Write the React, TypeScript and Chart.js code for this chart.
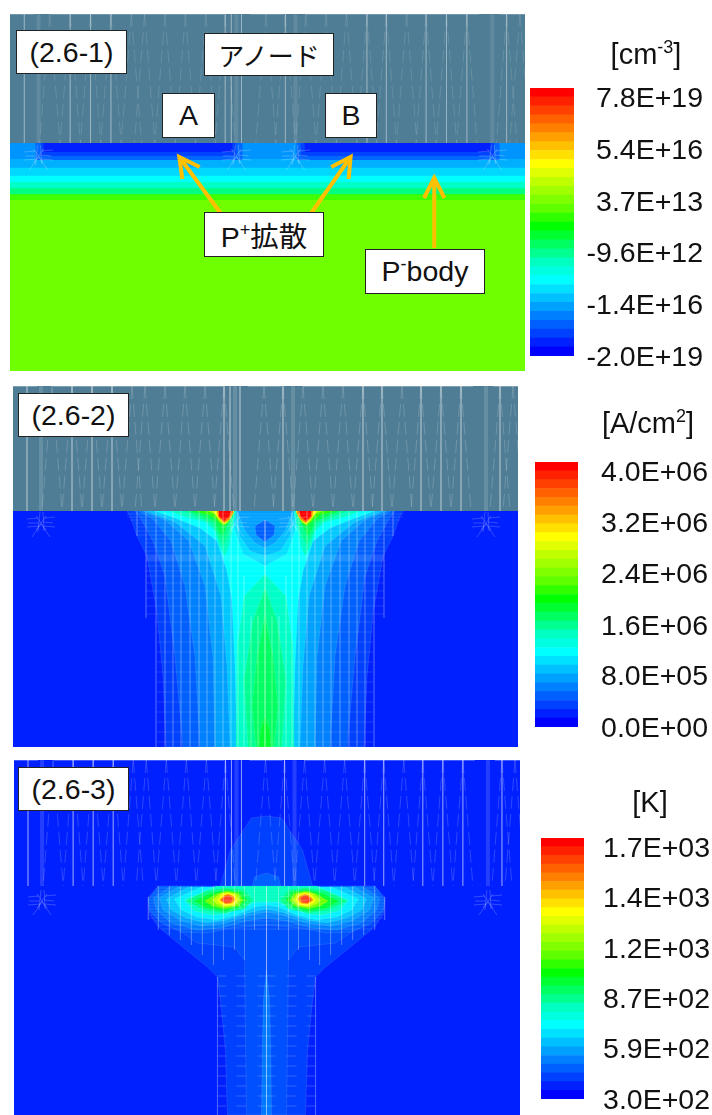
import React, { useEffect, useRef } from "react";
import { Chart, registerables } from "chart.js";

Chart.register(...registerables);

// ---------- colour scale, bottom to top ----------
const levelColors = ["#0000ff","#0020ff","#0040ff","#0060ff","#0080ff","#00a0ff","#00c0ff","#00e0ff","#00ffff","#00ffe0","#00ffc0","#00ff90","#00ff60","#00ff30","#00ff00","#30ff00","#60ff00","#80ff00","#a0ff00","#c0ff00","#e0ff00","#ffff00","#ffe000","#ffc000","#ffa000","#ff8000","#ff6000","#ff4000","#ff2000","#ff0000"];
const ticksDoping = ["7.8E+19","5.4E+16","3.7E+13","-9.6E+12","-1.4E+16","-2.0E+19"];
const ticksCurrent = ["4.0E+06","3.2E+06","2.4E+06","1.6E+06","8.0E+05","0.0E+00"];
const ticksTemp = ["1.7E+03","1.4E+03","1.2E+03","8.7E+02","5.9E+02","3.0E+02"];
const tickLevels = [28.75, 22.95, 17.15, 11.35, 5.6, -0.2];

// ---------- anode mesh streaks (device x) ----------
const anodeSolid = [14,59,79,99,211,217,227,270,350,369,408,428,448,487];
const anodeGlow = [28,222,280,473];
const anodeApex = [39,59,79,99,119,132,152,172,192,211,251,270,290,310,330,350,369,389,408,428,448,487,500];
const anodeTop = [[0,24],[40,210],[235,268],[290,460],[480,505]];

// ---------- panel 1: doping layers ----------
const dopingLayers: [number, string][] = [[186,"#40ff00"],[180.3,"#00ff80"],[174.3,"#00ffc8"],[167.7,"#00ffff"],[161.7,"#00d8ff"],[153.7,"#00b0ff"],[145,"#0094ff"]];
const dopingBlocks: [number, number, number, number, string][] = [
  [25,228,129,146,"#0068ff"],[281,480,129,146,"#0068ff"],
  [30,222,129,142,"#0044ff"],[285,475,129,142,"#0044ff"],
  [33,218,129,138,"#0020ff"],[289,471,129,138,"#0020ff"],
];
const arrowA = [[186,153],[166,143],[169,165],[null,null],[210,204],[166,143]];
const arrowB = [[315,153],[334,143],[332,165],[null,null],[292,204],[334,143]];
const arrowBody = [[406,184],[416,164],[426,184],[null,null],[416,234],[416,164]];

// ---------- panel 2: current density contours (half outlines: distance from axis, depth) ----------
const currentBells: [string, number[][]][] = [
  ["#0040ff",[[138,125],[135,130],[128,150],[118,170],[108,227],[102,290],[99,361]]],
  ["#0060ff",[[130,125],[124,133],[112,155],[100,190],[90,270],[82,361]]],
  ["#0080ff",[[126,125],[112,133],[94,155],[80,200],[70,270],[65,361]]],
  ["#00a0ff",[[122,125],[100,134],[76,155],[60,200],[52,270],[50,361]]],
  ["#00c8ff",[[118,125],[90,136],[60,160],[44,210],[38,280],[35,361]]],
  ["#00ffff",[[110,125],[90,132],[65,142],[48,155],[38,185],[33,215],[30,280],[28,361]]],
  ["#00ffc8",[[0,188],[21,210],[28,261],[29,361]]],
  ["#00ff90",[[0,202],[12,234],[21,294],[17,361]]],
  ["#00ff60",[[0,229],[8,270],[13,320],[9,361]]],
  ["#00ff30",[[0,330],[5,345],[6,361]]],
];
const currentDip: [string, number[][]][] = [
  ["#00e0ff",[[33,125],[30,145],[22,168],[0,180]]],
  ["#00c0ff",[[30,125],[25,150],[15,165],[0,170]]],
  ["#00a0ff",[[28,125],[20,145],[10,157],[0,162]]],
  ["#0060ff",[[0,134],[10,140],[9,149],[0,156]]],
];
const currentLobes: [string, number[][]][] = [
  ["#00ffc0",[[95,125],[80,131],[60,136],[50,145],[46,160],[40,170],[36,160],[32,140],[29,125]]],
  ["#00ff90",[[82,125],[65,132],[52,138],[47,150],[42,160],[37,150],[33,135],[31,125]]],
  ["#00ff50",[[75,125],[60,131],[50,136],[46,146],[42,150],[38,140],[33,130],[31,125]]],
  ["#30ff00",[[70,125],[55,129],[47,135],[42,140],[37,137],[33,129],[31,125]]],
  ["#a0ff00",[[58,125],[50,128],[46,135],[41,139],[36,135],[32,128],[31,125]]],
  ["#ffff00",[[52,125],[47,132],[41,138],[36,134],[32,128],[31,125]]],
  ["#ff8000",[[48,125],[47,131],[41,137],[35,133],[32,127],[32,125]]],
  ["#ff0000",[[46,125],[46,130],[41,135],[36,131],[34,125]]],
];
const currentMeshColumns = [[128,125,150],[119,125,232],[109,125,361],[100,125,361],[92,125,361],[84,125,361],[75,125,361],[66,125,361],[58,125,361],[50,125,361],[42,125,361],[34,125,361],[27,125,361],[21,190,361],[14,230,361],[7,230,361],[0,134,361]];
const currentMeshRows = [[128,138],[131,138],[134,135],[137,130],[141,128],[145,128],[149,128],[153,120],[157,120],[161,120],[165,120],[169,120],[175,120],[180,120],[185,120],[190,119],[197,119],[205,119],[212,119],[220,119],[228,119],[236,110],[246,108],[256,108],[266,108],[276,108],[286,108],[296,108],[306,108],[316,108],[326,108],[336,108],[346,108],[356,108]];
const currentStripe = [[119,172]];

// ---------- panel 3: temperature contours ----------
const tempBody: [string, number[][]][] = [
  ["#0040ff",[[0,126],[108,126],[118,137],[117,153],[108,167],[80,190],[59,207],[49,217],[46,240],[41,290],[39,355]]],
  ["#0050ff",[[0,127],[108,128],[112,140],[105,155],[95,165],[69,183],[32,187],[22,200],[20,355]]],
];
const tempStem = [[0,210],[3,240],[4,280],[5,355]];
const tempStemColor = "#0078ff";
const tempDome: [string, number[][]][] = [
  ["#0040ff",[[46,126],[36,90],[15,58],[0,56]]],
  ["#0060ff",[[14,126],[12,117],[0,113]]],
];
const tempWings: [string, number[][]][] = [
  ["#0060ff",[[108,126],[118,140],[117,150],[105,163],[85,172],[60,173],[35,168],[0,165]]],
  ["#0080ff",[[95,126],[113,138],[110,150],[95,163],[70,170],[45,168],[20,161],[0,158]]],
  ["#00a0ff",[[88,127],[107,138],[103,150],[85,161],[65,166],[40,163],[15,155],[0,152]]],
  ["#00c8ff",[[78,127],[100,139],[95,150],[80,158],[60,163],[40,160],[15,152],[0,149]]],
  ["#00f0ff",[[65,127],[92,139],[85,150],[70,157],[50,160],[30,155],[12,147],[0,145]]],
  ["#00ffc0",[[50,126],[82,140],[72,151],[55,155],[40,154],[25,147],[10,142],[0,142]]],
];
const tempLobes: [string, number[][]][] = [
  ["#00ff80",[[80,141],[60,131],[40,128],[22,130],[14,140],[22,149],[42,153],[62,150]]],
  ["#00ff30",[[72,141],[55,133],[40,130],[25,132],[19,140],[26,147],[42,151],[60,148]]],
  ["#70ff00",[[62,141],[50,134],[40,131],[28,133],[23,140],[28,146],[42,149],[54,146]]],
  ["#c0ff00",[[54,140],[46,133],[38,132],[30,134],[26,140],[32,146],[42,147],[50,144]]],
  ["#ffff00",[[49,140],[44,134],[38,133],[31,135],[29,140],[33,145],[41,146],[47,143]]],
  ["#ff9000",[[47,140],[42,135],[38,134],[33,136],[31,140],[35,143.5],[41,144]]],
  ["#ff4020",[[45,140],[41,136],[38,135.5],[35,137],[34,140],[36,142.5],[41,143]]],
];
const tempMeshColumns = [[118,137,160],[108,126,170],[97,126,175],[86,126,180],[75,126,185],[64,126,195],[53,126,205],[43,126,200],[32,126,190],[22,126,200],[12,126,170],[0,126,355],[49,217,355]];
const tempMeshRows = [[128,108],[131,110],[134,112],[137,118],[140,118],[143,118],[146,118],[149,118],[152,118],[155,118],[158,118],[161,112],[165,108],[169,105]];
const tempCombRows = [216,226,236,246,256,266,276,286,296,306,316,326,336,346];

// ---------- starred mesh refinements ----------
const starSegments = [[-14,-5,-3,-6],[-13,-1,-2,-1],[-14,3,-2,2],[3,-6,14,-7],[2,-2,12,-1],[3,2,14,3],[-1,-12,-3,8],[2,-12,3,7],[0,0,-9,13],[0,0,9,13],[-5,-8,5,6],[5,-8,-5,6]];
const starCenters = [28,222,280,473];

type Pt = { x: number; y: number | null };
const WHITE = (a: number) => `rgba(255,255,255,${a})`;

function poly(points: Pt[], color: string, edge = "rgba(255,255,255,0.1)") {
  return { type: "scatter", data: points, showLine: true, fill: "shape", backgroundColor: color, borderColor: edge, borderWidth: 1, pointRadius: 0, tension: 0 };
}
function stroke(points: Pt[], color: string, width = 1, dash: number[] = []) {
  return { type: "scatter", data: points, showLine: true, fill: false, borderColor: color, borderWidth: width, borderDash: dash, pointRadius: 0, tension: 0 };
}
function rect(x0: number, x1: number, y0: number, y1: number): Pt[] {
  return [{ x: x0, y: y0 }, { x: x1, y: y0 }, { x: x1, y: y1 }, { x: x0, y: y1 }];
}
const AXIS = 252;
function mirrored(half: number[][]): Pt[] {
  const right = half.map(([d, y]) => ({ x: AXIS + d, y }));
  const left = half.slice().reverse().map(([d, y]) => ({ x: AXIS - d, y }));
  return [...right, ...left];
}
function both(half: number[][]): Pt[][] {
  return [half.map(([d, y]) => ({ x: AXIS + d, y })), half.map(([d, y]) => ({ x: AXIS - d, y }))];
}
function segs(list: number[][]): Pt[] {
  const out: Pt[] = [];
  for (const [a, b, c, d] of list) out.push({ x: a, y: b }, { x: c, y: d }, { x: c, y: null });
  return out;
}
function anode(height: number, a: number) {
  const verts: number[][] = anodeSolid.map((x) => [x, 0, x, height]);
  const zig: number[][] = [];
  for (const x of anodeApex) { zig.push([x, 0, x - 10, height], [x, 0, x + 10, height]); }
  return [
    stroke(segs(anodeGlow.map((x) => [x, 0, x, height])), WHITE(a * 0.65), 4),
    stroke(segs(verts), WHITE(a * 1.1), 1),
    stroke(segs(zig), WHITE(a * 0.8), 1, [13, 5]),
    stroke(segs(anodeTop.map(([p, q]) => [p, 0.5, q, 0.5])), WHITE(a * 1.2), 1),
  ];
}
function stars(yc: number, a: number) {
  const l: number[][] = [];
  for (const c of starCenters) for (const [p, q, r, s] of starSegments) l.push([c + p, yc + q, c + r, yc + s]);
  return stroke(segs(l), WHITE(a), 1);
}
function meshLines(cols: number[][], rows: number[][], a: number) {
  const l: number[][] = [];
  for (const [d, y0, y1] of cols) { l.push([AXIS + d, y0, AXIS + d, y1], [AXIS - d, y0, AXIS - d, y1]); }
  for (const [y, d] of rows) l.push([AXIS - d, y, AXIS + d, y]);
  return stroke(segs(l), WHITE(a), 1);
}
const toPts = (r: (number | null)[][]): Pt[] => r.map(([x, y]) => ({ x: x as number, y }));

function panelOne() {
  const H = 357, IF = 129;
  const ds: any[] = [poly(rect(0, 505, 0, H), "#70ff00", "transparent")];
  for (const [y, c] of dopingLayers) ds.push(poly(rect(0, 505, IF, y), c, "transparent"));
  for (const [a, b, c, d, col] of dopingBlocks) ds.push(poly(rect(a, b, c, d), col, "transparent"));
  ds.push(poly(rect(0, 505, 0, IF), "#4f7d95", "transparent"));
  ds.push(...anode(IF, 0.16));
  ds.push(stars(143, 0.22));
  for (const a of [arrowA, arrowB, arrowBody]) ds.push(stroke(toPts(a), "#ffc000", 4));
  return { ds, H };
}
function panelTwo() {
  const H = 361, IF = 125;
  const ds: any[] = [poly(rect(0, 505, 0, H), "#0020ff", "transparent")];
  for (const [c, o] of currentBells) ds.push(poly(mirrored(o), c));
  for (const [c, o] of currentDip) ds.push(poly(mirrored(o), c));
  for (const [c, o] of currentLobes) for (const p of both(o)) ds.push(poly(p, c, "transparent"));
  ds.push(stroke(segs(currentStripe.map(([d, y]) => [AXIS - d, y, AXIS + d, y])), WHITE(0.12), 5));
  ds.push(meshLines(currentMeshColumns, currentMeshRows, 0.13));
  ds.push(poly(rect(0, 505, 0, IF), "#4f7d95", "transparent"));
  ds.push(...anode(IF, 0.22));
  ds.push(stars(138, 0.2));
  return { ds, H };
}
function panelThree() {
  const H = 355;
  const ds: any[] = [poly(rect(0, 505, 0, H), "#0020ff", "transparent")];
  for (const [c, o] of tempDome) ds.push(poly(mirrored(o), c));
  ds.push(...anode(126, 0.22));
  for (const [c, o] of tempBody) ds.push(poly(mirrored(o), c));
  ds.push(poly(mirrored(tempStem), tempStemColor));
  for (const [c, o] of tempWings) ds.push(poly(mirrored(o), c));
  for (const [c, o] of tempLobes) for (const p of both(o)) ds.push(poly(p, c, "transparent"));
  const combs: number[][] = [];
  for (const y of tempCombRows) for (const [p, q] of [[-49, -40], [-30, -20], [-9, 9], [20, 30], [40, 49]]) combs.push([AXIS + p, y, AXIS + q, y]);
  ds.push(stroke(segs(combs), WHITE(0.2), 1));
  ds.push(meshLines(tempMeshColumns, tempMeshRows, 0.13));
  ds.push(stars(142, 0.2));
  return { ds, H };
}

function Panel({ build, left, top, width, height }: any) {
  const ref = useRef<HTMLCanvasElement>(null);
  useEffect(() => {
    const { ds, H } = build();
    const chart = new Chart(ref.current as HTMLCanvasElement, {
      type: "scatter",
      data: { datasets: ds.slice().reverse() },
      options: {
        animation: false, responsive: false, events: [],
        layout: { padding: 0 },
        plugins: { legend: { display: false }, tooltip: { enabled: false } },
        scales: {
          x: { type: "linear", min: 0, max: 505, display: false },
          y: { type: "linear", min: 0, max: H, reverse: true, display: false },
        },
      },
    } as any);
    return () => chart.destroy();
  }, []);
  return <canvas ref={ref} width={width} height={height} style={{ position: "absolute", left, top, width, height }} />;
}

function ColorBar({ labels, barLeft, barRight, barTop, barBottom, textRight, labelGap }: any) {
  const ref = useRef<HTMLCanvasElement>(null);
  const left = barLeft - 8, top = barTop - 20, width = 712 - left, height = barBottom + 22 - top;
  useEffect(() => {
    const chart = new Chart(ref.current as HTMLCanvasElement, {
      type: "bar",
      data: {
        labels: [""],
        datasets: levelColors.map((c) => ({ data: [1], backgroundColor: c, borderWidth: 0, barPercentage: 1, categoryPercentage: 1 })),
      },
      options: {
        animation: false, responsive: false, events: [],
        layout: { padding: { left: 8, right: 712 - textRight, top: 20, bottom: 22 } },
        plugins: { legend: { display: false }, tooltip: { enabled: false } },
        scales: {
          x: { stacked: true, display: false },
          y: {
            stacked: true, position: "right", min: 0, max: 30,
            grid: { display: false, drawTicks: false }, border: { display: false },
            afterBuildTicks: (s: any) => { s.ticks = tickLevels.map((value) => ({ value })); },
            afterFit: (s: any) => { s.width = textRight - barRight; s.paddingTop = 0; s.paddingBottom = 0; },
            ticks: {
              autoSkip: false, padding: labelGap, crossAlign: "far", color: "#111",
              font: { family: "'Liberation Sans', Arial, sans-serif", size: 28.5 },
              callback: (_v: any, i: number) => labels[i],
            },
          },
        },
      },
    } as any);
    return () => chart.destroy();
  }, []);
  return <canvas ref={ref} width={width} height={height} style={{ position: "absolute", left, top, width, height }} />;
}

const FONT = "'Liberation Sans', 'Noto Sans CJK JP', Arial, sans-serif";
function Box({ x0, x1, y0, y1, children, size = 28.5 }: any) {
  return (
    <div style={{ position: "absolute", left: x0, top: y0, width: x1 - x0, height: y1 - y0, boxSizing: "border-box", background: "#fff", border: "1.5px solid #222", display: "flex", alignItems: "center", justifyContent: "center", font: `${size}px ${FONT}`, color: "#111", whiteSpace: "nowrap" }}>
      <span>{children}</span>
    </div>
  );
}
function Title({ cx, cy, children }: any) {
  return (
    <div style={{ position: "absolute", left: cx - 70, width: 140, top: cy - 18, height: 36, textAlign: "center", font: `29px/36px ${FONT}`, color: "#111" }}>
      {children}
    </div>
  );
}
const supStyle: React.CSSProperties = { fontSize: 18, verticalAlign: "11px", lineHeight: 0 };

export default function App() {
  return (
    <div style={{ position: "absolute", left: 0, top: 0, width: 712, height: 1115, background: "#fff", overflow: "hidden" }}>
      <Panel build={panelOne} left={10} top={14} width={515} height={357} />
      <Panel build={panelTwo} left={13} top={386} width={505} height={361} />
      <Panel build={panelThree} left={14} top={760} width={506} height={355} />
      <ColorBar labels={ticksDoping} barLeft={530} barRight={574} barTop={88} barBottom={356} textRight={703} labelGap={14} />
      <ColorBar labels={ticksCurrent} barLeft={535} barRight={578} barTop={462} barBottom={727} textRight={708} labelGap={24} />
      <ColorBar labels={ticksTemp} barLeft={541} barRight={584} barTop={838} barBottom={1099} textRight={710} labelGap={21} />
      <Title cx={646} cy={54}>[cm<sup style={supStyle}>-3</sup>]</Title>
      <Title cx={648} cy={423}>[A/cm<sup style={supStyle}>2</sup>]</Title>
      <Title cx={650} cy={802}>[K]</Title>
      <Box x0={16} x1={127} y0={30} y1={74}>(2.6-1)</Box>
      <Box x0={204} x1={334} y0={33} y1={76} size={26}>アノード</Box>
      <Box x0={162} x1={215} y0={93} y1={138}>A</Box>
      <Box x0={325} x1={377} y0={93} y1={138}>B</Box>
      <Box x0={204} x1={324} y0={212} y1={257}>P<sup style={supStyle}>+</sup>拡散</Box>
      <Box x0={365} x1={485} y0={249} y1={294}>P<sup style={supStyle}>-</sup>body</Box>
      <Box x0={18} x1={129} y0={393} y1={437}>(2.6-2)</Box>
      <Box x0={18} x1={129} y0={767} y1={811}>(2.6-3)</Box>
    </div>
  );
}
